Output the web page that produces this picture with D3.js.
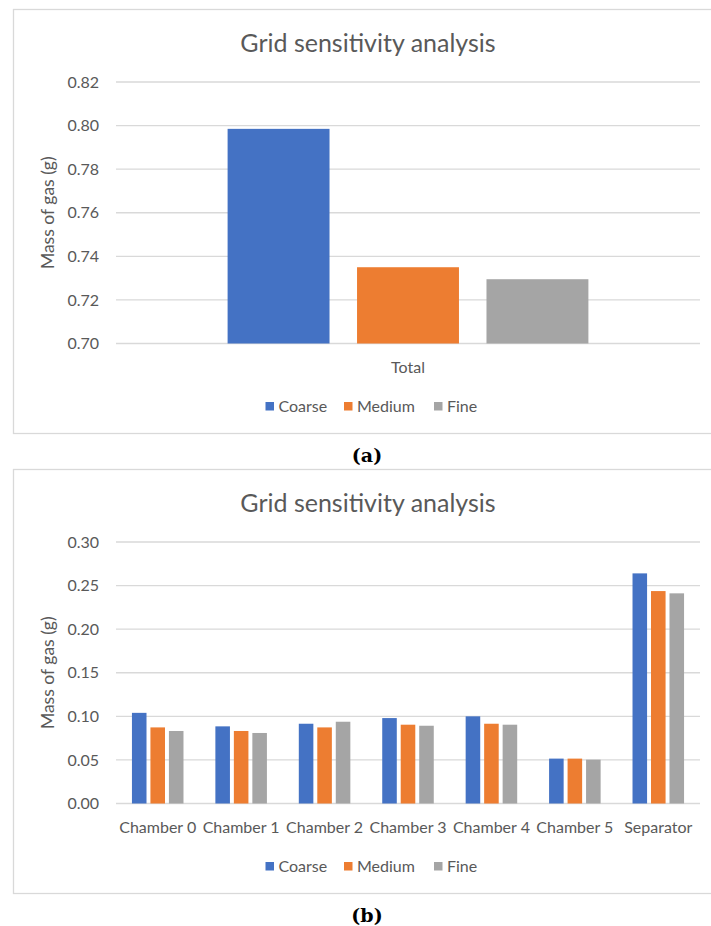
<!DOCTYPE html>
<html>
<head>
  <meta charset="utf-8">
  <title>Grid sensitivity analysis</title>
  <script src="https://d3js.org/d3.v7.min.js"></script>
  <style>
    body { margin: 0; background: #fff; }
    svg { display: block; font-family: Lato, "Open Sans", sans-serif; }
    .frame { fill: none; stroke: #d9d9d9; stroke-width: 1.3; }
    .grid line { stroke: #d9d9d9; stroke-width: 1.3; }
    .ylab, .xlab, .legend text { fill: #595959; font-size: 16px; }
    .ytitle { fill: #595959; font-size: 17.5px; }
    .title { fill: #595959; font-size: 25px; }
    .panel { font-family: "DejaVu Serif", serif; font-weight: bold; font-size: 19px; fill: #000; }
  </style>
</head>
<body>
<script>
// series shared by both charts
var seriesNames = ["Coarse", "Medium", "Fine"];
var seriesColors = ["#4472c4", "#ed7d31", "#a5a5a5"];

// (a) total mass
var totalCategories = ["Total"];
var totalCoarse = [0.7985];
var totalMedium = [0.735];
var totalFine = [0.7295];
var totalTicks = [0.70, 0.72, 0.74, 0.76, 0.78, 0.80, 0.82];

// (b) mass per chamber
var chamberCategories = ["Chamber 0", "Chamber 1", "Chamber 2", "Chamber 3", "Chamber 4", "Chamber 5", "Separator"];
var chamberCoarse = [0.104, 0.0885, 0.0915, 0.098, 0.100, 0.0515, 0.264];
var chamberMedium = [0.0873, 0.0832, 0.0873, 0.0904, 0.0915, 0.0515, 0.2437];
var chamberFine = [0.0832, 0.0809, 0.0938, 0.0892, 0.0904, 0.0503, 0.2411];
var chamberTicks = [0.00, 0.05, 0.10, 0.15, 0.20, 0.25, 0.30];

var width = 711, height = 926;

var svg = d3.select("body").append("svg")
  .attr("width", width)
  .attr("height", height);

function drawChart(top, categories, series, ticks, panelLabel) {
  var g = svg.append("g").attr("transform", "translate(0," + top + ")");

  // chart area frame (right side runs off the page like the original)
  g.append("rect").attr("class", "frame")
    .attr("x", 13.5).attr("y", 0.5)
    .attr("width", 730).attr("height", 424);

  var plotLeft = 116, plotRight = 700, plotTop = 73, plotBottom = 334.5;

  var y = d3.scaleLinear()
    .domain([ticks[0], ticks[ticks.length - 1]])
    .range([plotBottom, plotTop]);

  // excel style: gap width 219%, overlap -27%
  var x0 = d3.scaleBand().domain(categories).range([plotLeft, plotRight]);
  var unit = x0.bandwidth() / (3 + 2 * 0.27 + 2.19);
  var x1 = d3.scaleOrdinal().domain(seriesNames)
    .range([0, 1, 2].map(function(i) { return unit * 2.19 / 2 + i * unit * 1.27; }));

  g.append("text").attr("class", "title")
    .attr("x", 368).attr("y", 43)
    .attr("text-anchor", "middle")
    .text("Grid sensitivity analysis");

  var grid = g.append("g").attr("class", "grid");
  grid.selectAll("line").data(ticks).enter().append("line")
    .attr("x1", plotLeft).attr("x2", plotRight)
    .attr("y1", function(d) { return y(d); })
    .attr("y2", function(d) { return y(d); });

  g.selectAll(".ylab").data(ticks).enter().append("text")
    .attr("class", "ylab")
    .attr("x", plotLeft - 17)
    .attr("y", function(d) { return y(d); })
    .attr("dy", "0.35em")
    .attr("text-anchor", "end")
    .text(function(d) { return d3.format(".2f")(d); });

  g.append("text").attr("class", "ytitle")
    .attr("transform", "translate(48," + ((plotTop + plotBottom) / 2) + ") rotate(-90)")
    .attr("text-anchor", "middle")
    .attr("dy", "0.35em")
    .text("Mass of gas (g)");

  var groups = g.selectAll(".cat").data(categories).enter().append("g")
    .attr("transform", function(d) { return "translate(" + x0(d) + ",0)"; });

  groups.selectAll("rect")
    .data(function(d, i) {
      return seriesNames.map(function(s, k) { return { s: s, k: k, v: series[k][i] }; });
    })
    .enter().append("rect")
    .attr("x", function(d) { return x1(d.s); })
    .attr("width", unit)
    .attr("y", function(d) { return y(d.v); })
    .attr("height", function(d) { return plotBottom - y(d.v); })
    .attr("fill", function(d) { return seriesColors[d.k]; });

  g.selectAll(".xlab").data(categories).enter().append("text")
    .attr("class", "xlab")
    .attr("x", function(d) { return x0(d) + x0.bandwidth() / 2; })
    .attr("y", plotBottom + 24)
    .attr("dy", "0.35em")
    .attr("text-anchor", "middle")
    .text(function(d) { return d; });

  // legend
  var legend = g.append("g").attr("class", "legend");
  var legX = [265.5, 344, 434];
  seriesNames.forEach(function(s, k) {
    legend.append("rect")
      .attr("x", legX[k]).attr("y", 393)
      .attr("width", 8.5).attr("height", 8.5)
      .attr("fill", seriesColors[k]);
    legend.append("text")
      .attr("x", legX[k] + 13).attr("y", 397.5)
      .attr("dy", "0.35em")
      .text(s);
  });

  svg.append("text").attr("class", "panel")
    .attr("x", 367).attr("y", top + 425 + 28)
    .attr("text-anchor", "middle")
    .text(panelLabel);
}

drawChart(9, totalCategories, [totalCoarse, totalMedium, totalFine], totalTicks, "(a)");
drawChart(469, chamberCategories, [chamberCoarse, chamberMedium, chamberFine], chamberTicks, "(b)");
</script>
</body>
</html>
